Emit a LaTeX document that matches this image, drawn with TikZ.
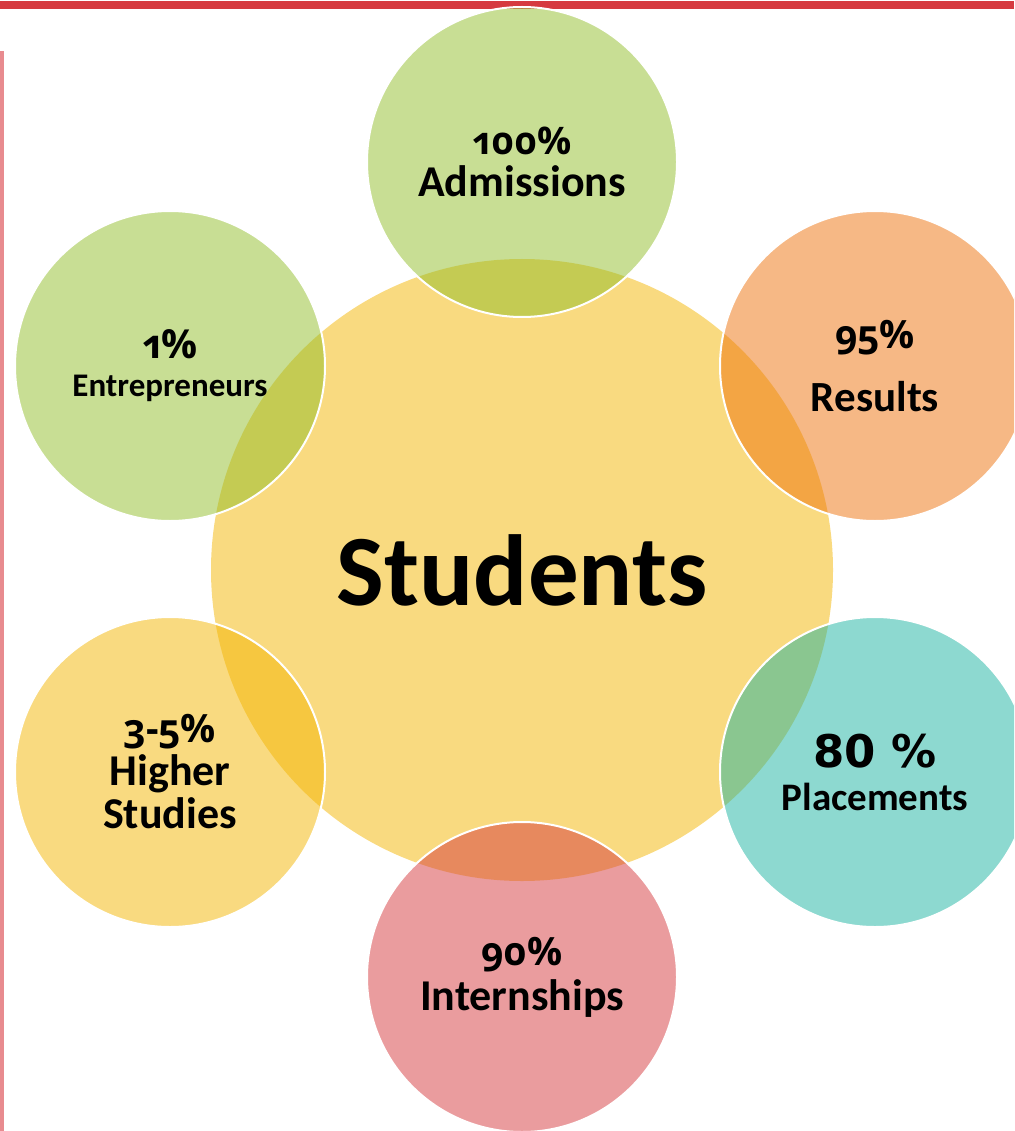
\documentclass[tikz,border=0pt]{standalone}
\usepackage{fontspec}
\setmainfont{Carlito}
\newfontfamily\oldnum{Open Sans}[Numbers=OldStyle]
\newfontfamily\verdanalike{DejaVu Sans}
\definecolor{bandred}{HTML}{D63A40}
\definecolor{edgepink}{HTML}{E88B8F}
\definecolor{hubyellow}{HTML}{F3B501}
\definecolor{satgreen}{HTML}{91BD29}
\definecolor{satorange}{HTML}{ED710B}
\definecolor{satteal}{HTML}{1BB3A1}
\definecolor{satpink}{HTML}{D5393D}
\tikzset{
  hub/.style={circle, inner sep=0pt, minimum size=622pt, fill=hubyellow,
    fill opacity=0.5, text opacity=1, align=center},
  sat/.style={circle, inner sep=0pt, minimum size=310pt, draw=white,
    line width=2pt, fill opacity=0.5, text opacity=1, align=center}
}
\begin{document}
\begin{tikzpicture}[x=1pt, y=-1pt]
		\useasboundingbox ( 0, 0 ) rectangle ( 1014, 1131 );
		\clip ( 0, 0 ) rectangle ( 1014, 1131 );
		% рамка страницы
		\fill [bandred] ( 0, 1 ) rectangle ( 1014, 9 );
		\fill [edgepink] ( 0, 51 ) rectangle ( 4, 1131 );

		% центр
		\node [hub, font=\bfseries\fontsize{101}{101}\selectfont] (students) at ( 522, 570 ) {Students};

		% верх
		\node [sat, fill=satgreen, font=\bfseries\fontsize{44}{42}\selectfont] (admissions) at ( 522, 162 )
			{{\oldnum\fontsize{38}{42}\selectfont 100\%}\\Admissions};

		% справа вверху
		\node [sat, fill=satorange, font=\bfseries\fontsize{43}{63}\selectfont] (results) at ( 875, 366 )
			{{\oldnum\fontsize{39}{63}\selectfont 95\%}\\Results};

		% справа внизу
		\node [sat, fill=satteal, font=\bfseries\fontsize{39}{43}\selectfont] (placements) at ( 875, 772 )
			{{\verdanalike\fontsize{45}{43}\selectfont 80 \%}\\Placements};

		% низ
		\node [sat, fill=satpink, font=\bfseries\fontsize{44}{45}\selectfont] (internships) at ( 522, 977 )
			{{\oldnum\fontsize{39}{45}\selectfont 90\%}\\Internships};

		% слева внизу
		\node [sat, fill=hubyellow, font=\bfseries\fontsize{44}{43}\selectfont] (higher) at ( 170, 772 )
			{{\oldnum\fontsize{39}{43}\selectfont 3-5\%}\\Higher\\Studies};

		% слева вверху
		\node [sat, fill=satgreen, font=\bfseries\fontsize{33}{38}\selectfont] (entrepreneurs) at ( 170, 366 )
			{{\oldnum\fontsize{40}{38}\selectfont 1\%}\\Entrepreneurs};
\end{tikzpicture}
\end{document}
